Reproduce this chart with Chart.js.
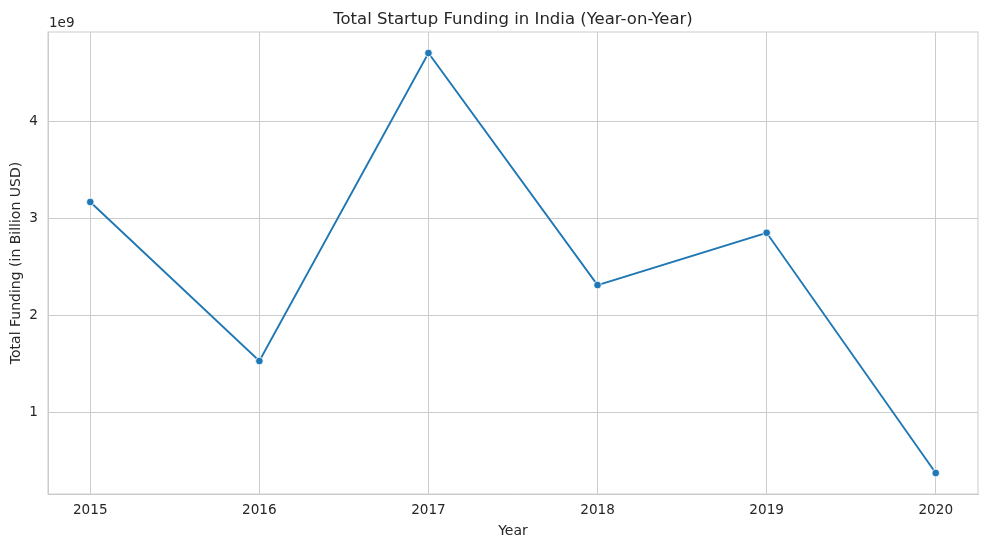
<!DOCTYPE html>
<html>
<head>
<meta charset="utf-8">
<script src="https://cdn.jsdelivr.net/npm/chart.js@4"></script>
<style>
  html, body { margin: 0; padding: 0; background: #fff; }
  #wrap { width: 988px; height: 547px; position: relative; }
</style>
</head>
<body>
<div id="wrap"><canvas id="myChart"></canvas></div>
<script>
const years = [2015, 2016, 2017, 2018, 2019, 2020];
const funding = [3.165e9, 1.526e9, 4.701e9, 2.309e9, 2.848e9, 0.371e9];
const yTicks = [1e9, 2e9, 3e9, 4e9];
const xTicks = years;

const textColor = '#262626';
const gridColor = '#cccccc';

// frame on all four sides + the offset "1e9" label like matplotlib
const framePlugin = {
    id: 'frame',
    beforeDatasetsDraw(chart) {
        const { ctx, chartArea } = chart;
        ctx.save();
        ctx.strokeStyle = gridColor;
        ctx.lineWidth = 1;
        ctx.strokeRect(chartArea.left, chartArea.top, chartArea.right - chartArea.left, chartArea.bottom - chartArea.top);
        ctx.restore();
    },
    afterDraw(chart) {
        const { ctx, chartArea } = chart;
        ctx.save();
        ctx.fillStyle = textColor;
        ctx.font = '13.5px "DejaVu Sans"';
        ctx.textAlign = 'left';
        ctx.textBaseline = 'middle';
        ctx.fillText('1e9', chartArea.left + 1, chartArea.top - 8.5);
        ctx.restore();
    }
};

const ctx = document.getElementById('myChart');

const chart = new Chart(ctx, {
    type: 'line',
    data: {
        datasets: [{
            label: 'Total Funding',
            data: years.map((y, i) => ({ x: y, y: funding[i] })),
            borderColor: '#1f77b4',
            backgroundColor: '#1f77b4',
            borderWidth: 1.9,
            pointRadius: 3.8,
            pointBorderColor: '#ffffff',
            pointBorderWidth: 0.8,
            pointBackgroundColor: '#1f77b4',
            tension: 0
        }]
    },
    options: {
        responsive: true,
        maintainAspectRatio: false,
        animation: false,
        devicePixelRatio: 1,
        layout: {
            padding: { left: 0, right: 10, top: 0, bottom: 0 }
        },
        plugins: {
            legend: { display: false },
            tooltip: { enabled: false },
            title: {
                display: true,
                fullSize: false,
                text: 'Total Startup Funding in India (Year-on-Year)',
                color: textColor,
                font: { family: 'DejaVu Sans', size: 16.5, weight: 'normal' },
                padding: { top: 9.5, bottom: 2.7 }
            }
        },
        scales: {
            x: {
                type: 'linear',
                min: 2014.75,
                max: 2020.25,
                afterBuildTicks(scale) {
                    scale.ticks = xTicks.map(v => ({ value: v }));
                },
                afterFit(scale) {
                    scale.height = 53;
                },
                ticks: {
                    color: textColor,
                    font: { family: 'DejaVu Sans', size: 13.6 },
                    padding: 8.8,
                    maxRotation: 0,
                    callback: v => String(v)
                },
                grid: { color: gridColor, drawTicks: false },
                border: { color: gridColor },
                title: {
                    display: true,
                    text: 'Year',
                    color: textColor,
                    font: { family: 'DejaVu Sans', size: 14 },
                    padding: { top: 0, bottom: 7.6 }
                }
            },
            y: {
                type: 'linear',
                min: 0.1546e9,
                max: 4.918e9,
                afterBuildTicks(scale) {
                    scale.ticks = yTicks.map(v => ({ value: v }));
                },
                afterFit(scale) {
                    scale.width = 48;
                },
                ticks: {
                    color: textColor,
                    font: { family: 'DejaVu Sans', size: 13.6 },
                    padding: 10,
                    callback: v => String(Math.round(v / 1e9))
                },
                grid: { color: gridColor, drawTicks: false },
                border: { color: gridColor },
                title: {
                    display: true,
                    text: 'Total Funding (in Billion USD)',
                    color: textColor,
                    font: { family: 'DejaVu Sans', size: 14 },
                    padding: { top: 7.5, bottom: 0 }
                }
            }
        }
    },
    plugins: [framePlugin]
});
</script>
</body>
</html>
